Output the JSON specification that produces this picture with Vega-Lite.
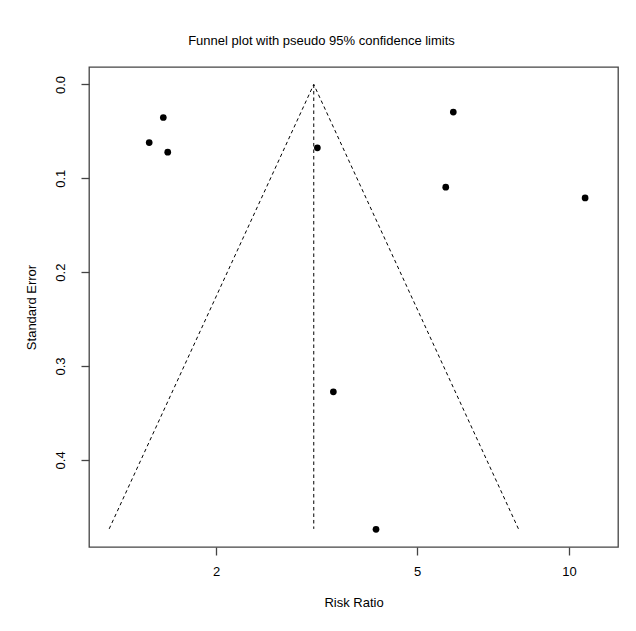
{
  "$schema": "https://vega.github.io/schema/vega-lite/v6.json",
  "width": 529,
  "height": 480,
  "autosize": {"type": "none"},
  "padding": {"left": 89, "top": 67, "right": 18, "bottom": 84},
  "background": "white",
  "title": {
    "text": "Funnel plot with pseudo 95% confidence limits",
    "fontSize": 13,
    "fontWeight": "normal",
    "font": "Liberation Sans",
    "color": "black",
    "anchor": "middle",
    "frame": "bounds",
    "baseline": "alphabetic",
    "offset": 9
  },
  "datasets": {
    "studies": [
      {"rr": 1.573, "se": 0.0352},
      {"rr": 1.475, "se": 0.0619},
      {"rr": 1.605, "se": 0.0721},
      {"rr": 3.175, "se": 0.0675},
      {"rr": 5.90, "se": 0.0294},
      {"rr": 5.70, "se": 0.1094},
      {"rr": 10.76, "se": 0.1209},
      {"rr": 3.415, "se": 0.3275},
      {"rr": 4.148, "se": 0.474}
    ],
    "funnel": [
      {"rr": 1.229, "se": 0.4735, "o": 1},
      {"rr": 3.123, "se": 0.0, "o": 2},
      {"rr": 7.94, "se": 0.4735, "o": 3}
    ],
    "centre": [
      {"rr": 3.123, "se": 0.0, "se_end": 0.4735}
    ]
  },
  "layer": [
    {
      "data": {"name": "funnel"},
      "mark": {"type": "line", "color": "black", "strokeWidth": 1, "strokeDash": [3.5, 3]},
      "encoding": {
        "x": {"field": "rr", "type": "quantitative"},
        "y": {"field": "se", "type": "quantitative"},
        "order": {"field": "o", "type": "quantitative"}
      }
    },
    {
      "data": {"name": "centre"},
      "mark": {"type": "rule", "color": "black", "strokeWidth": 1, "strokeDash": [3.5, 3]},
      "encoding": {
        "x": {"field": "rr", "type": "quantitative"},
        "y": {"field": "se", "type": "quantitative"},
        "y2": {"field": "se_end"}
      }
    },
    {
      "data": {"name": "studies"},
      "mark": {"type": "point", "filled": true, "color": "black", "opacity": 1, "size": 45},
      "encoding": {
        "x": {
          "field": "rr",
          "type": "quantitative",
          "scale": {"type": "log", "domain": [1.121, 12.5], "nice": false, "zero": false},
          "axis": {
            "title": "Risk Ratio",
            "values": [2, 5, 10],
            "format": "d",
            "labelPadding": 10,
            "titlePadding": 18
          }
        },
        "y": {
          "field": "se",
          "type": "quantitative",
          "scale": {"domain": [-0.0186, 0.4928], "reverse": true, "nice": false, "zero": false},
          "axis": {
            "title": "Standard Error",
            "values": [0, 0.1, 0.2, 0.3, 0.4],
            "format": ".1f",
            "labelAngle": -90,
            "labelPadding": 14,
            "titlePadding": 16
          }
        }
      }
    }
  ],
  "config": {
    "view": {"stroke": "#444444", "strokeWidth": 1.3},
    "axis": {
      "domain": false,
      "grid": false,
      "tickSize": 8,
      "tickColor": "#444444",
      "tickWidth": 1.3,
      "labelFont": "Liberation Sans",
      "titleFont": "Liberation Sans",
      "labelFontSize": 13,
      "titleFontSize": 13,
      "labelColor": "black",
      "titleColor": "black",
      "titleFontWeight": "normal"
    }
  }
}
